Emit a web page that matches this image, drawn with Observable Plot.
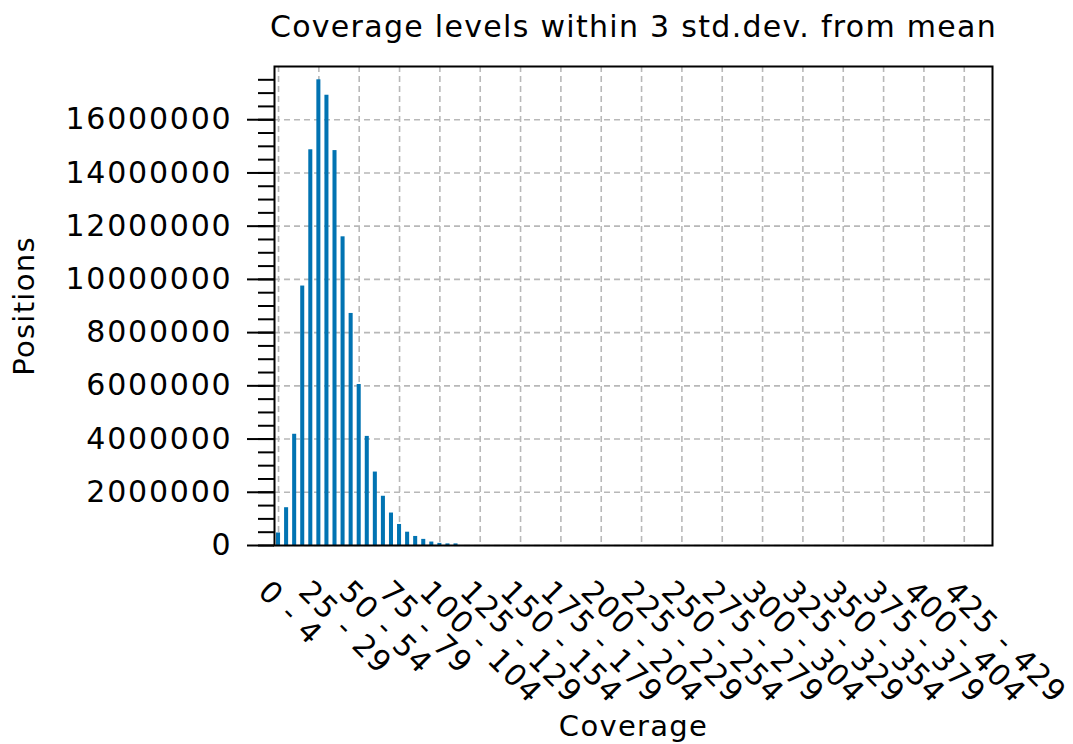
<!DOCTYPE html>
<html>
<head>
<meta charset="utf-8">
<script src="https://cdn.jsdelivr.net/npm/d3@7"></script>
<script src="https://cdn.jsdelivr.net/npm/@observablehq/plot@0.6"></script>
<style>
  html, body { margin: 0; padding: 0; background: #fff; }
  #chart { width: 1073px; height: 744px; }
  #chart svg text { letter-spacing: 1.3px; }
  #chart svg g[aria-label="y-axis tick label"] text { letter-spacing: 1.8px; }
  #chart svg g[aria-label="x-axis tick label"] text { letter-spacing: 1.5px; }
</style>
</head>
<body>
<div id="chart"></div>
<script>
// Bin lower bounds (coverage bins of width 5): 0, 5, 10, ... 440
const binStarts = d3.range(0, 445, 5);
const categories = binStarts.map(s => `${s} - ${s + 4}`);

// Positions per coverage bin
const positions = [
  470000, 1420000, 4180000, 9750000, 14870000, 17500000, 16920000, 14840000,
  11600000, 8720000, 6050000, 4100000, 2760000, 1850000, 1220000, 790000,
  500000, 340000, 230000, 130000, 80000, 60000, 60000, 0,
  0, 0, 0, 0, 0, 0, 0, 0, 0, 0, 0, 0, 0, 0, 0, 0,
  0, 0, 0, 0, 0, 0, 0, 0, 0, 0, 0, 0, 0, 0, 0, 0,
  0, 0, 0, 0, 0, 0, 0, 0, 0, 0, 0, 0, 0, 0, 0, 0,
  0, 0, 0, 0, 0, 0, 0, 0, 0, 0, 0, 0, 0, 0, 0, 0,
  0
];

// Shown x tick labels (every 5th bin)
const xTickLabels = [
  "0 - 4", "25 - 29", "50 - 54", "75 - 79", "100 - 104", "125 - 129",
  "150 - 154", "175 - 179", "200 - 204", "225 - 229", "250 - 254",
  "275 - 279", "300 - 304", "325 - 329", "350 - 354", "375 - 379",
  "400 - 404", "425 - 429"
];
const yTicks = [0, 2000000, 4000000, 6000000, 8000000, 10000000, 12000000, 14000000, 16000000];
const yMinorTicks = d3.range(0, 18000000, 500000);

const title = "Coverage levels within 3 std.dev. from mean";
const xLabel = "Coverage";
const yLabel = "Positions";

const data = categories.map((c, i) => ({bin: c, value: positions[i]}));

const gridStyle = {stroke: "#b8b8b8", strokeOpacity: 1, strokeWidth: 1.6, strokeDasharray: "6,4"};

const chart = Plot.plot({
  width: 1073,
  height: 744,
  marginLeft: 274,
  marginRight: 81,
  marginTop: 66,
  marginBottom: 199,
  style: {fontFamily: "'DejaVu Sans', sans-serif", fontSize: "30px", color: "#000", background: "#fff", overflow: "visible"},
  x: {type: "band", domain: categories, paddingInner: 0.5, paddingOuter: 0.25, round: false, label: null},
  y: {domain: [0, 18000000], label: null},
  marks: [
    Plot.gridY(yTicks, gridStyle),
    Plot.gridX(xTickLabels, gridStyle),
    Plot.barY(data, {x: "bin", y: "value", fill: "#0173b2"}),
    Plot.frame({stroke: "#000", strokeWidth: 2}),
    Plot.axisY(yMinorTicks, {tickSize: 16, strokeWidth: 2, tickFormat: () => "", label: null}),
    Plot.axisY(yTicks, {tickSize: 27, tickPadding: 15, strokeWidth: 2, tickFormat: d => String(d), fontSize: 30, label: null}),
    Plot.axisX(xTickLabels, {tickSize: 0, tickPadding: 41, dx: -15, tickRotate: 45, textAnchor: "start", fontSize: 30, label: null}),
    Plot.text([title], {frameAnchor: "top", dy: -30, lineAnchor: "bottom", textAnchor: "middle", fontSize: 30}),
    Plot.text([xLabel], {frameAnchor: "bottom", dy: 190, lineAnchor: "bottom", textAnchor: "middle", fontSize: 29}),
    Plot.text([yLabel], {frameAnchor: "left", dx: -241, lineAnchor: "bottom", textAnchor: "middle", rotate: -90, fontSize: 29})
  ]
});

document.getElementById("chart").appendChild(chart);
</script>
</body>
</html>
